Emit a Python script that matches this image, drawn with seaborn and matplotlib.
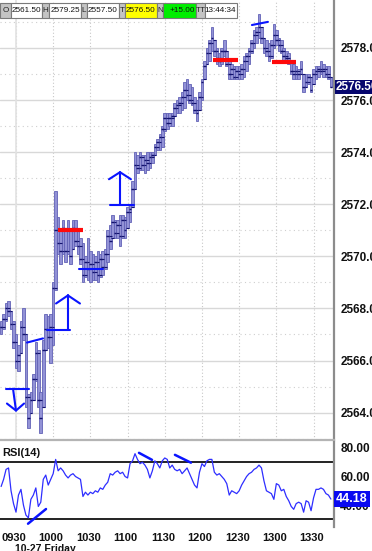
import numpy as np
import matplotlib
matplotlib.use("Agg")
import matplotlib.pyplot as plt
import matplotlib.transforms as mtransforms
from matplotlib.patches import Rectangle
import seaborn as sns

# ---------------- data (minutes after 09:30, 2-minute bars) ----------------
minutes = list(range(-12, 256, 2))

bar_low = [
    2567.0, 2567.2, 2567.5, 2567.7, 2567.2, 2566.5, 2565.7, 2565.6, 2566.3, 2566.8,
    2564.2, 2563.4, 2564.0, 2564.5, 2565.2, 2564.2, 2563.2, 2564.2, 2566.4, 2566.5,
    2565.9, 2566.6, 2568.7, 2570.1, 2569.7, 2570.1, 2569.8, 2570.1, 2569.7, 2570.3,
    2570.4, 2570.1, 2569.7, 2569.0, 2569.2, 2569.1, 2569.0, 2569.1, 2569.1, 2569.0,
    2569.2, 2569.3, 2569.5, 2569.8, 2570.3, 2570.7, 2570.7, 2570.7, 2570.4, 2570.7,
    2570.7, 2571.1, 2571.3, 2571.9, 2572.6, 2573.2, 2573.3, 2573.3, 2573.2, 2573.3,
    2573.4, 2573.6, 2573.9, 2574.1, 2574.1, 2574.2, 2574.8, 2574.9, 2575.0, 2575.0,
    2575.4, 2575.5, 2575.5, 2575.6, 2575.7, 2576.0, 2575.9, 2575.8, 2575.5, 2575.2,
    2575.6, 2576.0, 2576.8, 2577.4, 2577.5, 2577.9, 2577.7, 2577.4, 2577.3, 2577.4,
    2577.7, 2577.3, 2576.8, 2576.8, 2576.8, 2576.8, 2576.8, 2576.8, 2576.9, 2577.1,
    2577.4, 2577.8, 2578.0, 2578.2, 2578.4, 2578.2, 2577.8, 2577.7, 2577.5, 2577.6,
    2578.0, 2578.1, 2577.9, 2577.8, 2577.5, 2577.5, 2577.4, 2577.0, 2576.8, 2576.8,
    2576.8, 2577.0, 2576.3, 2576.5, 2576.6, 2576.3, 2576.6, 2576.8, 2576.9, 2577.0,
    2576.9, 2576.9, 2576.8, 2576.5,
]
bar_high = [
    2567.5, 2567.8, 2568.2, 2568.3, 2567.9, 2567.5, 2567.0, 2566.6, 2567.5, 2568.0,
    2567.0, 2564.7, 2564.8, 2565.5, 2566.7, 2566.4, 2564.8, 2566.8, 2567.8, 2567.7,
    2567.8, 2569.0, 2572.5, 2571.5, 2571.0, 2571.4, 2571.1, 2571.4, 2571.0, 2571.4,
    2571.4, 2571.0, 2570.7, 2570.5, 2570.0, 2570.7, 2570.2, 2570.1, 2570.0, 2570.2,
    2570.1, 2570.2, 2570.3, 2571.0, 2571.2, 2571.6, 2571.4, 2571.4, 2571.6, 2571.6,
    2571.5, 2571.9, 2572.0, 2572.9, 2574.0, 2573.9, 2574.0, 2573.9, 2573.9, 2574.0,
    2574.0, 2574.0, 2574.3, 2574.5, 2574.7, 2575.0, 2575.5, 2575.5, 2575.5, 2575.5,
    2575.9, 2576.0, 2576.1, 2576.3, 2576.7, 2576.8, 2576.6, 2576.5, 2576.1, 2576.0,
    2576.3, 2576.8, 2577.5, 2578.0, 2578.3, 2578.8, 2578.3, 2578.0, 2577.8, 2578.0,
    2578.3, 2577.9, 2577.5, 2577.4, 2577.3, 2577.3, 2577.3, 2577.4, 2577.7, 2577.8,
    2578.0, 2578.3, 2578.7, 2578.8, 2579.3, 2578.8, 2578.4, 2578.3, 2578.2, 2578.3,
    2578.9, 2578.7, 2578.4, 2578.3, 2578.0, 2577.9, 2577.8, 2577.5, 2577.4, 2577.3,
    2577.2, 2577.5, 2577.0, 2577.0, 2577.0, 2576.9, 2577.2, 2577.3, 2577.3, 2577.5,
    2577.4, 2577.3, 2577.3, 2576.9,
]
bar_close = [
    2567.3, 2567.6, 2568.0, 2567.9, 2567.4, 2566.7, 2566.0, 2566.2, 2567.3, 2567.0,
    2564.6, 2563.8, 2564.5, 2565.3, 2566.3, 2564.5, 2563.8, 2566.4, 2567.2, 2566.9,
    2567.3, 2568.8, 2571.0, 2570.5, 2570.2, 2571.1, 2570.2, 2571.0, 2570.0, 2571.1,
    2570.6, 2570.4, 2569.9, 2569.3, 2569.8, 2569.5, 2569.7, 2569.4, 2569.8, 2569.3,
    2569.9, 2569.6, 2570.1, 2570.8, 2570.6, 2571.3, 2570.9, 2571.2, 2570.8, 2571.4,
    2571.0, 2571.7, 2571.8, 2572.6, 2573.5, 2573.4, 2573.8, 2573.5, 2573.7, 2573.6,
    2573.8, 2573.9, 2574.2, 2574.4, 2574.6, 2574.9, 2575.3, 2575.1, 2575.3, 2575.4,
    2575.7, 2575.8, 2575.9, 2576.1, 2576.4, 2576.2, 2576.0, 2575.9, 2575.6, 2575.5,
    2576.1, 2576.7, 2577.3, 2577.8, 2578.2, 2578.4, 2577.9, 2577.6, 2577.5, 2577.9,
    2577.9, 2577.4, 2577.0, 2577.2, 2576.9, 2577.1, 2577.0, 2577.2, 2577.5, 2577.7,
    2577.9, 2578.2, 2578.5, 2578.6, 2578.8, 2578.4, 2578.0, 2577.9, 2577.7, 2578.1,
    2578.5, 2578.3, 2578.1, 2577.9, 2577.7, 2577.6, 2577.5, 2577.1, 2577.0, 2577.1,
    2577.0, 2577.2, 2576.5, 2576.7, 2576.9, 2576.4, 2577.0, 2577.1, 2577.2, 2577.1,
    2577.2, 2577.0, 2576.9, 2576.5,
]
rsi_values = [
    53, 58, 65, 66, 50, 41, 35, 47, 51, 40,
    33, 31, 44, 47, 52, 39, 42, 58, 61, 54,
    58, 62, 72, 64, 66, 64, 61, 59, 61, 62,
    60, 59, 58, 46, 49, 47, 49, 48, 50, 49,
    52, 51, 54, 56, 62, 61, 63, 64, 62, 63,
    60, 59, 69, 71, 76, 72, 69, 70, 68, 65,
    59, 64, 71, 69, 66, 71, 73, 72, 66, 68,
    65, 64, 65, 62, 64, 66, 62, 58, 54, 52,
    63, 69, 67, 71, 72, 72, 63, 61, 62, 60,
    58, 55, 47, 50, 49, 48, 50, 54, 57, 60,
    62, 63, 65, 66, 68, 66, 57, 50, 49, 48,
    44, 55, 54, 50, 51, 46, 43, 39, 37, 41,
    42, 41, 35, 43, 42, 36, 45, 51, 51, 52,
    51, 48, 47, 44.18,
]

time_ticks = [0, 30, 60, 90, 120, 150, 180, 210, 240]
time_labels = ["0930", "1000", "1030", "1100", "1130", "1200", "1230", "1300", "1330"]
price_ticks = [2564, 2566, 2568, 2570, 2572, 2574, 2576, 2578]
rsi_ticks = [40, 60, 80]
last_price = 2576.50
last_rsi = 44.18

header_labels = ["O", "H", "L", "T", "N", "TT"]
header_values = ["2561.50", "2579.25", "2557.50", "2576.50", "+15.00", "13:44:34"]

# support / resistance marks (red) and drawn annotations (blue), data coords
red_levels = [(33.9, 54.0, 2571.0), (158.9, 179.0, 2577.55), (206.5, 225.8, 2577.45)]
blue_segments = [
    ([-8.1, 10.5], [2564.92, 2564.92]),
    ([-2.4, 0.0], [2564.92, 2564.08]),
    ([-7.3, 0.0, 6.5], [2564.35, 2564.08, 2564.35]),
    ([8.9, 21.8], [2566.69, 2566.85]),
    ([25.0, 43.5], [2567.19, 2567.19]),
    ([41.9, 41.9], [2567.19, 2568.50]),
    ([32.3, 41.9, 51.6], [2568.19, 2568.50, 2568.19]),
    ([50.8, 70.2], [2569.50, 2569.50]),
    ([75.8, 95.2], [2571.96, 2571.96]),
    ([83.9, 83.9], [2571.96, 2573.23]),
    ([75.0, 83.9, 92.7], [2572.96, 2573.23, 2572.96]),
    ([190.3, 203.2], [2578.88, 2579.00]),
]
rsi_segments = [
    ([9.7, 24.2], [26.9, 37.2]),
    ([99.2, 109.7], [76.6, 71.7]),
    ([128.2, 141.1], [75.2, 69.7]),
]

# ---------------- style ----------------
sns.set_style("white")
plt.rcParams["font.family"] = ["Liberation Sans", "DejaVu Sans"]

W, H = 372, 551
fig = plt.figure(figsize=(W / 100, H / 100), dpi=100)


def frect(x0, y0, x1, y1):
    return [x0 / W, 1 - y1 / H, (x1 - x0) / W, (y1 - y0) / H]


ax = fig.add_axes(frect(0, 0, 334, 440))
axr = fig.add_axes(frect(0, 442, 334, 527), sharex=ax)

t = np.array(minutes, dtype=float)
low = np.array(bar_low)
high = np.array(bar_high)
close = np.array(bar_close)
openp = np.clip(np.concatenate([[close[0]], close[:-1]]), low, high)

# price bars
ax.bar(t, high - low, bottom=low, width=2.1, color="#9292d6",
       edgecolor="#6262b6", linewidth=0.6, zorder=3)
ax.hlines(close, t - 1.05, t + 1.05, color="#12126e", lw=1.0, zorder=4)
ax.hlines(openp, t - 1.05, t + 1.05, color="#12126e", lw=0.8, zorder=4)

for x0, x1, lvl in red_levels:
    ax.plot([x0, x1], [lvl, lvl], color="#ff0a0a", lw=3.0,
            solid_capstyle="butt", zorder=5)
for xs, ys in blue_segments:
    ax.plot(xs, ys, color="#0a14ff", lw=1.5, zorder=6, solid_capstyle="round")

ax.set_xlim(-12.9, 256.5)
ax.set_ylim(2562.95, 2579.84)
ax.set_yticks(price_ticks)
ax.set_yticks([p + 1 for p in price_ticks[:-1]] + [2563, 2579], minor=True)
ax.set_yticklabels([f"{p:.2f}" for p in price_ticks])
ax.grid(which="major", axis="y", color="#d8d8d8", lw=1.0)
ax.grid(which="minor", axis="y", color="#cfcfcf", lw=0.8, ls=(0, (1, 3)))
ax.set_xticks(time_ticks)
ax.grid(which="major", axis="x", color="#c8c8c8", lw=0.8, ls=(0, (1, 2)))
ax.axvline(0, color="#e2e2e2", lw=1.2, zorder=1)
ax.tick_params(axis="y", which="both", left=False, right=False, labelleft=False,
               labelright=True, pad=1, labelsize=8.5, labelcolor="#111111")
ax.tick_params(axis="x", which="both", bottom=False, labelbottom=False)
for lab in ax.get_yticklabels():
    lab.set_fontweight("bold")
for side in ["left", "top"]:
    ax.spines[side].set_visible(False)
ax.spines["right"].set_color("#8c8c8c")
ax.spines["right"].set_linewidth(1.6)
ax.spines["bottom"].set_color("#b4b4b4")
ax.spines["bottom"].set_linewidth(1.6)

blend = mtransforms.blended_transform_factory(ax.transAxes, ax.transData)
ax.text(1.006, last_price, f"{last_price:.2f}", transform=blend, ha="left",
        va="center", fontsize=8.5, fontweight="bold", color="white", zorder=10,
        clip_on=False,
        bbox=dict(boxstyle="square,pad=0.12", facecolor="#06066e", edgecolor="none"))

# ---------------- RSI ----------------
sns.lineplot(x=t, y=rsi_values, ax=axr, color="#2e2eff", lw=0.9, zorder=3)
axr.axhline(70, color="#111111", lw=1.3, zorder=2)
axr.axhline(30, color="#111111", lw=1.3, zorder=2)
for xs, ys in rsi_segments:
    axr.plot(xs, ys, color="#0a14ff", lw=1.8, zorder=6, solid_capstyle="round")
axr.set_ylim(24.6, 84.2)
axr.set_yticks(rsi_ticks)
axr.set_yticklabels([f"{v:.2f}" for v in rsi_ticks])
axr.set_xticks(time_ticks)
axr.set_xticklabels(time_labels)
axr.tick_params(axis="y", left=False, right=False, labelleft=False, labelright=True,
                pad=1, labelsize=8.5, labelcolor="#111111")
axr.tick_params(axis="x", bottom=False, pad=1, labelsize=8, labelcolor="#111111")
shift = mtransforms.ScaledTranslation(-2 / 100, 0, fig.dpi_scale_trans)
for lab in axr.get_xticklabels():
    lab.set_transform(lab.get_transform() + shift)
for lab in axr.get_yticklabels() + axr.get_xticklabels():
    lab.set_fontweight("bold")
for side in ["left", "top"]:
    axr.spines[side].set_visible(False)
axr.spines["right"].set_color("#8c8c8c")
axr.spines["right"].set_linewidth(1.6)
axr.spines["bottom"].set_visible(False)
axr.text(0.006, 0.87, "RSI(14)", transform=axr.transAxes, ha="left", va="center",
         fontsize=8, fontweight="bold", color="#111111")
blend_r = mtransforms.blended_transform_factory(axr.transAxes, axr.transData)
axr.text(1.006, last_rsi, f"{last_rsi:.2f}", transform=blend_r, ha="left",
         va="center", fontsize=9, fontweight="bold", color="white", zorder=10,
         clip_on=False,
         bbox=dict(boxstyle="square,pad=0.18", facecolor="#0a0af0", edgecolor="none"))

fig.text(15 / W, 1 - 548.5 / H, "10-27 Friday", ha="left", va="center",
         fontsize=7.5, fontweight="bold", color="#111111")

# ---------------- header box ----------------
cells = [(0, 11), (11, 42), (42, 49), (49, 81), (81, 87), (87, 119),
         (119, 125), (125, 157), (157, 163), (163, 196), (196, 205), (205, 237)]
value_bg = ["white", "white", "white", "#ffff00", "#00ee00", "white"]
y0, y1 = 3, 18
for i, (c0, c1) in enumerate(cells):
    k = i // 2
    is_label = i % 2 == 0
    bg = "#c4c4c4" if is_label else value_bg[k]
    fig.add_artist(Rectangle((c0 / W, 1 - y1 / H), (c1 - c0) / W, (y1 - y0) / H,
                             transform=fig.transFigure, facecolor=bg,
                             edgecolor="#7a7a7a", lw=0.8, zorder=20))
    txt = header_labels[k] if is_label else header_values[k]
    if is_label:
        fig.text((c0 + c1) / 2 / W, 1 - 10.5 / H, txt, ha="center", va="center",
                 fontsize=5.9, color="#222222", zorder=21)
    else:
        fig.text((c1 - 1.2) / W, 1 - 10.5 / H, txt, ha="right", va="center",
                 fontsize=5.9, color="#111111", zorder=21)

fig.savefig("out.png", dpi=100)
